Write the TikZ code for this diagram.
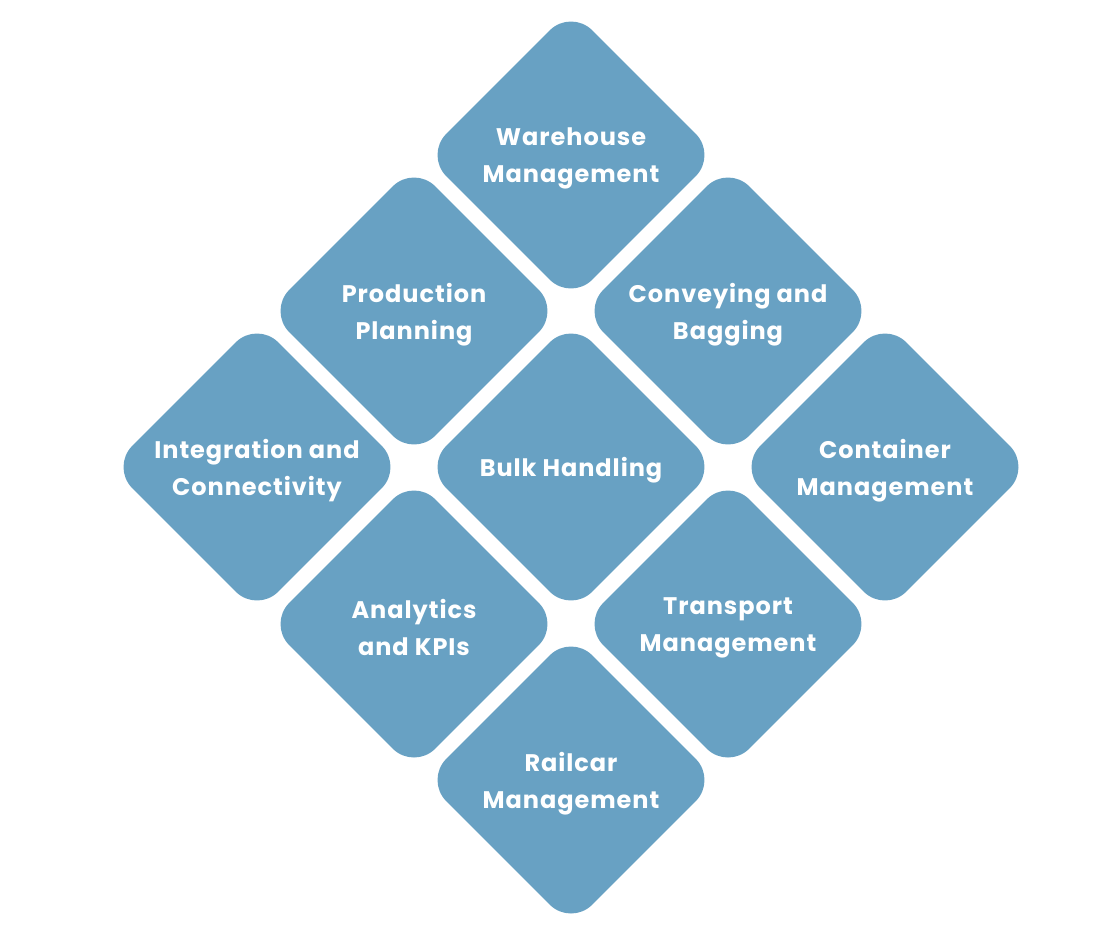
\documentclass[tikz,border=0pt]{standalone}
\usepackage{fontspec}
\setmainfont{Poppins}[LetterSpace=4]
\usetikzlibrary{shapes.geometric}

\definecolor{tileblue}{RGB}{104,161,195}

\tikzset{
  tile/.style={diamond, aspect=1, minimum size=292pt, inner sep=0pt,
    rounded corners=30pt, fill=tileblue},
  caption/.style={text=white, align=center, inner sep=0pt, yshift=-3.5pt,
    font=\fontsize{24}{37}\selectfont\bfseries}
}

\begin{document}
\begin{tikzpicture}[x=1pt, y=-1pt]
	\useasboundingbox (0,0) rectangle (1120,943);
	% the nine tiles
	\node[tile] (warehouse) at (571,155) {};
	\node[tile] (production) at (414,311) {};
	\node[tile] (conveying) at (728,311) {};
	\node[tile] (integration) at (257,467) {};
	\node[tile] (bulk) at (571,467) {};
	\node[tile] (container) at (885,467) {};
	\node[tile] (analytics) at (414,624) {};
	\node[tile] (transport) at (728,624) {};
	\node[tile] (railcar) at (571,780) {};
	% their texts
	\node[caption] (warehouse-text) at (warehouse) {Warehouse\\Management};
	\node[caption] (production-text) at (production) {Production\\Planning};
	\node[caption] (conveying-text) at (conveying) {Conveying and\\Bagging};
	\node[caption] (integration-text) at (integration) {Integration and\\Connectivity};
	\node[caption] (bulk-text) at (bulk) {Bulk Handling};
	\node[caption] (container-text) at (container) {Container\\Management};
	\node[caption] (analytics-text) at (analytics) {Analytics\\and KPIs};
	\node[caption] (transport-text) at (transport) {Transport\\Management};
	\node[caption] (railcar-text) at (railcar) {Railcar\\Management};
\end{tikzpicture}
\end{document}
